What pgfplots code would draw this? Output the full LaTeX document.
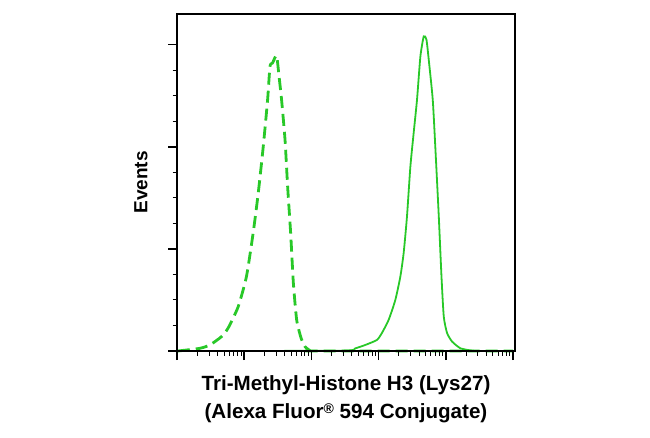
\documentclass[border=0pt]{standalone}
\usepackage{fontspec}
\setmainfont{Liberation Sans}
\usepackage{pgfplots}
\pgfplotsset{compat=1.18}
\definecolor{fgreen}{RGB}{40,200,40}
\begin{document}
\begin{tikzpicture}
\useasboundingbox (0,0) rectangle (650bp,438bp);
\begin{axis}[
  at={(177bp,87bp)}, anchor=south west,
  width=338bp, height=337bp, scale only axis,
  xmode=log, log basis x=10,
  xmin=1, xmax=107150,
  ymin=0, ymax=330,
  xtick={1,10,100,1000,10000,100000},
  minor xtick={2,3,4,5,6,7,8,9,20,30,40,50,60,70,80,90,200,300,400,500,600,700,800,900,2000,3000,4000,5000,6000,7000,8000,9000,20000,30000,40000,50000,60000,70000,80000,90000},
  ytick={0,100,200,300},
  minor y tick num=3,
  xticklabels={}, yticklabels={},
  tick align=outside,
  xtick pos=bottom, ytick pos=left,
  major tick length=9bp, minor tick length=4.5bp,
  every major tick/.style={line width=1.6bp, black},
  every minor tick/.style={line width=0.9bp, black},
  axis line style={line width=1.8bp},
  axis on top,
  clip=false,
  xlabel={Tri-Methyl-Histone H3 (Lys27)\\(Alexa Fluor\raisebox{5bp}{\fontsize{14bp}{14bp}\selectfont\textregistered} 594 Conjugate)},
  ylabel={Events},
  xlabel style={at={(axis description cs:0.5,-0.144)}, anchor=center, align=center,
    font=\fontsize{20.6bp}{28bp}\selectfont\bfseries},
  ylabel style={at={(axis description cs:-0.1065,0.5)}, anchor=center,
    font=\fontsize{19bp}{23bp}\selectfont\bfseries},
]
\addplot[fgreen, line width=2.8bp, dash pattern=on 12bp off 6bp, smooth, tension=0.35] coordinates {
(1.03,0) (2.18,2.6) (3.08,5.9) (4.58,14.0) (5.77,22.5) (8.14,43.4) (10.8,72.9)
(13.6,115.7) (16.2,154.9) (19.2,200) (22.3,246) (24.2,278.7) (26.4,282) (30.3,289.2)
(33.0,269) (36.0,246) (40.5,207) (44.3,161) (49.1,115.7) (53.9,66.6) (60.4,30.4)
(70.2,12.7) (80.5,4.2) (95.7,0.3) (100,0) (100000,0)
};
\addplot[fgreen, line width=1.8bp, smooth, tension=0.35] coordinates {
(1,0) (283,0.3) (449,2.6) (633,5.9) (944,10.8) (1120,17.6) (1410,30.4) (1775,50)
(2108,72.9) (2361,96) (2645,131.6) (2972,180.6) (3329,213.7) (3731,246) (4189,288.5)
(4699,308.1) (5152,305) (5576,285.3) (6398,246) (7019,197) (7870,131.6) (8630,72.9)
(9333,33.6) (10450,17.6) (12420,9.2) (16570,2.6) (24710,0.3) (30000,0) (100000,0)
};
\end{axis}
\end{tikzpicture}
\end{document}
